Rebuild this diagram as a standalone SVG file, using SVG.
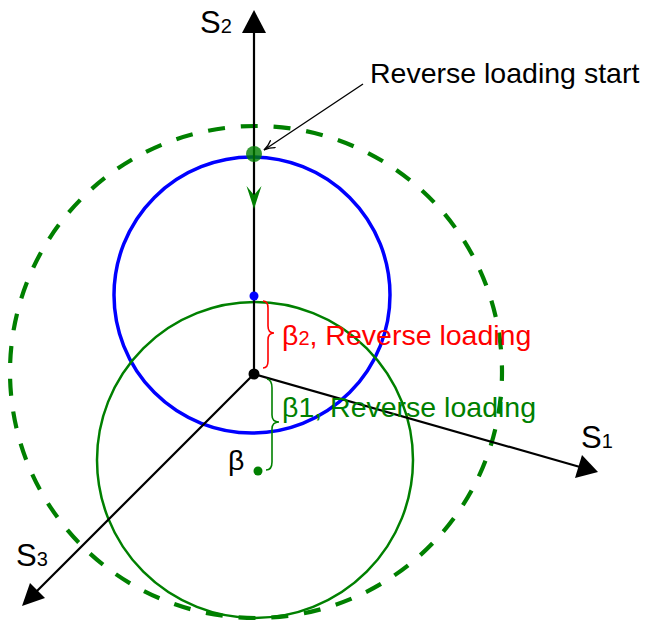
<svg xmlns="http://www.w3.org/2000/svg" width="647" height="621" viewBox="0 0 647 621">
<style>
text{font-family:"Liberation Sans",Arial,sans-serif;font-size:28.5px}
.ax{stroke:#000;stroke-width:2.2;fill:none}
.lbl{font-size:31px}
.sub{font-size:20px}
</style>
<defs>
<marker id="thin" viewBox="0 0 12 10" refX="11" refY="5" markerWidth="12" markerHeight="10" markerUnits="userSpaceOnUse" orient="auto">
<path d="M0,0.5 Q5,4 11,5 Q5,6 0,9.5" fill="none" stroke="#000" stroke-width="1.3"/>
</marker>
</defs>
<rect width="647" height="621" fill="#fff"/>
<g id="surfaces">
<circle id="outer-dashed" cx="256" cy="372" r="246" fill="none" stroke="#008000" stroke-width="4.2" stroke-dasharray="17 15.9" stroke-dashoffset="8"/>
<circle id="blue-surface" cx="252" cy="295" r="138" fill="none" stroke="#0000ff" stroke-width="3.5"/>
<circle id="green-surface" cx="255" cy="460" r="158" fill="none" stroke="#008000" stroke-width="2.5"/>
</g>
<g id="connectors">
<line class="ax" x1="254" y1="374" x2="254" y2="30"/>
<path d="M254,10 L266,33 L242,33 Z" fill="#000"/>
<line class="ax" x1="254" y1="374" x2="580" y2="467"/>
<path d="M598,472 L575,478 L582,455 Z" fill="#000"/>
<line class="ax" x1="254" y1="374" x2="36" y2="592"/>
<path d="M22,606 L30,583 L45,598 Z" fill="#000"/>
<path d="M246.5,186 L254,209 L261.5,186 L254,195 Z" fill="#008000"/>
<line x1="363" y1="84" x2="264" y2="150" stroke="#000" stroke-width="1.3" marker-end="url(#thin)"/>
<path d="M263,301 Q268,301 268,308 L268,326 Q268,333 274,333 Q268,333 268,340 L268,361 Q268,368 263,368" fill="none" stroke="#ff0000" stroke-width="1.6"/>
<path d="M267,379 Q272,380 272,388 L272,415 Q272,422 279,422 Q272,422 272,429 L272,462 Q272,470 266,470" fill="none" stroke="#008000" stroke-width="1.6"/>
</g>
<g id="points">
<circle id="start-point" cx="254" cy="154" r="8" fill="#008000" fill-opacity="0.8"/>
<circle id="blue-center" cx="254" cy="296" r="4.5" fill="#0000ff"/>
<circle id="origin" cx="254" cy="374" r="5.5" fill="#000"/>
<circle id="green-center" cx="258" cy="471" r="4.5" fill="#008000"/>
</g>
<g id="labels">
<text id="s2" x="200" y="33" class="lbl">S<tspan class="sub">2</tspan></text>
<text id="s1" x="581" y="448" class="lbl">S<tspan class="sub">1</tspan></text>
<text id="s3" x="16" y="566" class="lbl">S<tspan class="sub">3</tspan></text>
<text id="start-label" x="370" y="83">Reverse loading start</text>
<text id="beta2-label" x="282" y="345" fill="#ff0000">β<tspan class="sub">2</tspan>, Reverse loading</text>
<text id="beta1-label" x="282" y="417" fill="#008000">β1, Reverse loading</text>
<text id="beta-label" x="228" y="470">β</text>
</g>
</svg>
